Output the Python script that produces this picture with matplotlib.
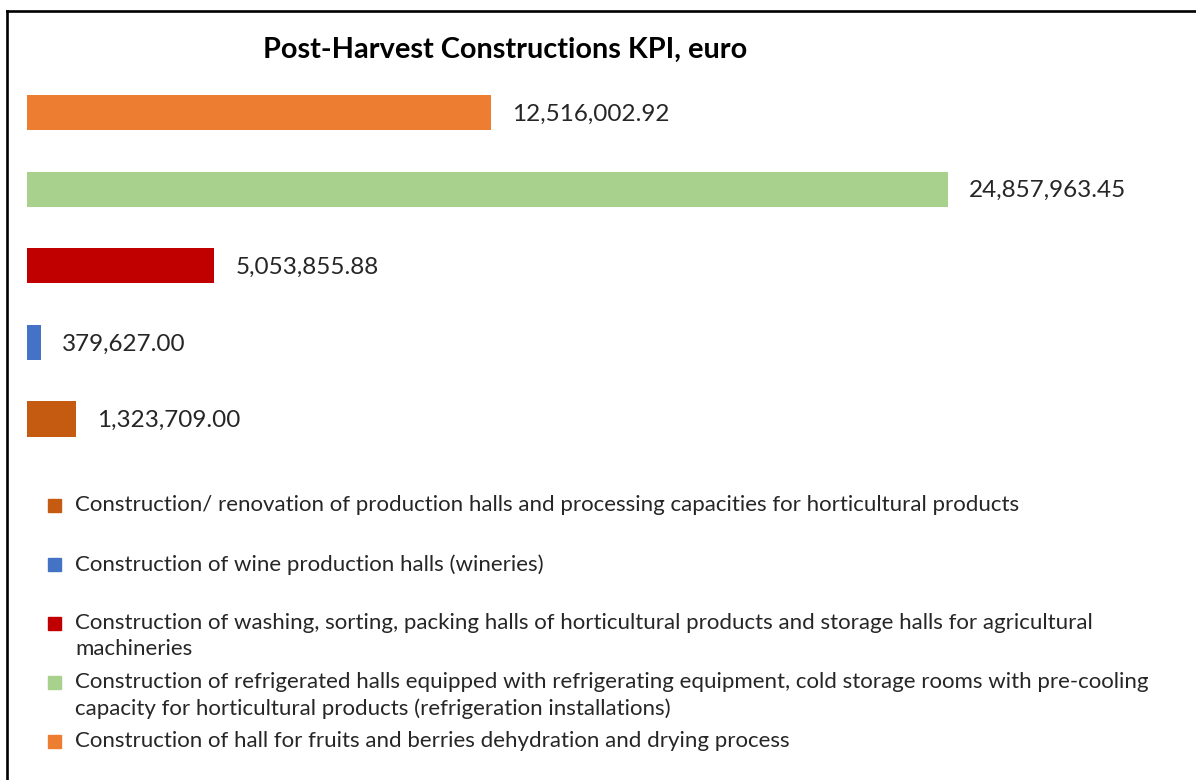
import textwrap
import matplotlib
matplotlib.use("Agg")
import matplotlib.pyplot as plt
from matplotlib.patches import Rectangle
from matplotlib.lines import Line2D

plt.rcParams['font.family'] = ['Lato', 'DejaVu Sans']

# ---- data (top bar first) ----
categories = [
    "Construction of hall for fruits and berries dehydration and drying process",
    "Construction of refrigerated halls equipped with refrigerating equipment, cold storage rooms with pre-cooling capacity for horticultural products (refrigeration installations)",
    "Construction of washing, sorting, packing halls of horticultural products and storage halls for agricultural machineries",
    "Construction of wine production halls (wineries)",
    "Construction/ renovation of production halls and processing capacities for horticultural products",
]
values = [12516002.92, 24857963.45, 5053855.88, 379627.00, 1323709.00]
colors = ["#ED7D31", "#A9D18E", "#C00000", "#4472C4", "#C55A11"]
title = "Post-Harvest Constructions KPI, euro"

W, H = 1196, 780
fig = plt.figure(figsize=(W / 100, H / 100), dpi=100)
fig.patch.set_facecolor("white")

# axes geometry in pixels
ax_left, ax_right = 27, 1176
ax_top, ax_bot = 74.2, 457.3
ax = fig.add_axes([ax_left / W, 1 - ax_bot / H, (ax_right - ax_left) / W, (ax_bot - ax_top) / H])

ypos = list(range(len(values)))
ax.barh(ypos, values, height=0.46, color=colors)
ax.set_ylim(len(values) - 0.5, -0.5)
# max bar ends at x=948 px
xmax = max(values) * (ax_right - ax_left) / (948 - ax_left)
ax.set_xlim(0, xmax)
ax.axis("off")

for y, v in zip(ypos, values):
    ax.annotate(f"{v:,.2f}", xy=(v, y), xytext=(15.1, -1.2), textcoords="offset points",
                va="center", ha="left", fontsize=17.5, color="#262626")

fig.text(505 / W, 1 - 50 / H, title, ha="center", va="center", fontsize=20.8,
         fontweight="bold", color="black")

# legend (reverse order), fixed slots
leg_top = 505
slot = 59
for i, idx in enumerate(reversed(range(len(categories)))):
    yc = leg_top + slot * i
    fig.patches.append(Rectangle((48 / W, 1 - (yc + 6.5) / H), 12.5 / W, 13 / H,
                                 transform=fig.transFigure, color=colors[idx]))
    lab = textwrap.fill(categories[idx], width=110)
    fig.text(75 / W, 1 - (yc - 10) / H, lab, ha="left", va="top", fontsize=16.0,
             color="#262626", linespacing=1.36)

# border (top and left)
fig.add_artist(Line2D([7 / W, 1], [1 - 11 / H, 1 - 11 / H], transform=fig.transFigure,
                      color="black", lw=1.9))
fig.add_artist(Line2D([7 / W, 7 / W], [1 - 11 / H, 0], transform=fig.transFigure,
                      color="black", lw=1.9))

fig.savefig("out.png", dpi=100)
